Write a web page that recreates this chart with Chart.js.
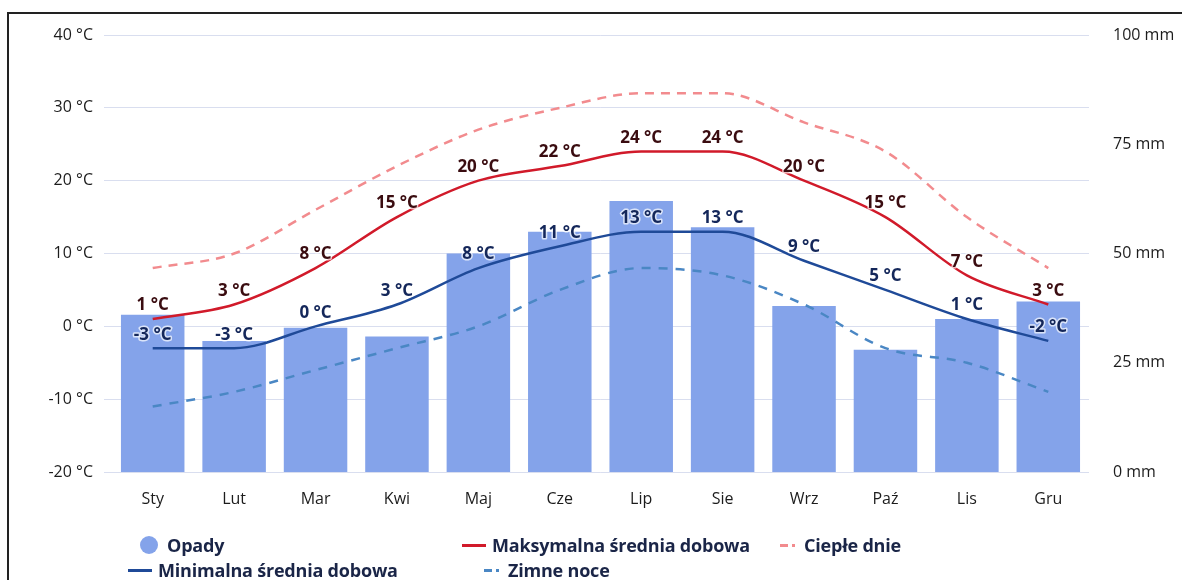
<!DOCTYPE html>
<html>
<head>
<meta charset="utf-8">
<script src="https://cdn.jsdelivr.net/npm/chart.js@4.4.1/dist/chart.umd.min.js"></script>
<style>
  html, body { margin: 0; padding: 0; background: #fff; overflow: hidden; }
  #wrap { position: relative; width: 1182px; height: 580px; }
  #frame { position: absolute; left: 7px; top: 12px; width: 1300px; height: 700px; border: 2px solid #222; }
  #legend { position: absolute; left: 0; top: 0; font-family: "Open Sans", sans-serif; font-weight: bold; font-size: 18px; color: #1a2547; letter-spacing: -0.2px; }
  .item { position: absolute; display: flex; align-items: center; white-space: nowrap; }
  .mark { display: inline-block; margin-right: 6px; }
</style>
</head>
<body>
<div id="wrap">
  <div id="frame"></div>
  <canvas id="climate" width="1182" height="580"></canvas>
  <div id="legend"></div>
</div>
<script>
const months = ['Sty', 'Lut', 'Mar', 'Kwi', 'Maj', 'Cze', 'Lip', 'Sie', 'Wrz', 'Paź', 'Lis', 'Gru'];
const precipitation = [36, 30, 33, 31, 50, 55, 62, 56, 38, 28, 35, 39];
const maxDaily = [1, 3, 8, 15, 20, 22, 24, 24, 20, 15, 7, 3];
const minDaily = [-3, -3, 0, 3, 8, 11, 13, 13, 9, 5, 1, -2];
const warmDays = [8, 10, 16, 22, 27, 30, 32, 32, 28, 24, 15, 8];
const coldNights = [-11, -9, -6, -3, 0, 5, 8, 7, 3, -3, -5, -9];
const tempTicks = [-20, -10, 0, 10, 20, 30, 40];
const rainTicks = [0, 25, 50, 75, 100];

// draws "x °C" above each point of the solid lines
const valueLabels = {
    id: 'valueLabels',
    afterDatasetsDraw(chart) {
        const ctx = chart.ctx;
        chart.data.datasets.forEach((ds, i) => {
            if (!ds.labelColor) return;
            const meta = chart.getDatasetMeta(i);
            ctx.save();
            ctx.font = 'bold 17px "Open Sans", sans-serif';
            ctx.textAlign = 'center';
            ctx.textBaseline = 'bottom';
            ctx.lineJoin = 'round';
            meta.data.forEach((pt, j) => {
                const txt = ds.data[j] + ' °C';
                ctx.lineWidth = 3;
                ctx.strokeStyle = 'rgba(255,255,255,0.7)';
                ctx.strokeText(txt, pt.x, pt.y - 5);
                ctx.fillStyle = ds.labelColor;
                ctx.fillText(txt, pt.x, pt.y - 5);
            });
            ctx.restore();
        });
    }
};

const lineBase = {
    type: 'line',
    yAxisID: 'y',
    pointRadius: 0,
    borderWidth: 2.5,
    fill: false,
    cubicInterpolationMode: 'monotone'
};

const tickFont = { family: 'Open Sans', size: 16, weight: '500' };

const chart = new Chart(document.getElementById('climate'), {
    data: {
        labels: months,
        datasets: [
            { ...lineBase, label: 'Maksymalna średnia dobowa', data: maxDaily, borderColor: '#d11a2a', labelColor: '#3a0c10', order: 1 },
            { ...lineBase, label: 'Minimalna średnia dobowa', data: minDaily, borderColor: '#1f4a98', labelColor: '#14275a', order: 2 },
            { ...lineBase, label: 'Ciepłe dnie', data: warmDays, borderColor: '#f28b8e', borderDash: [9, 7], order: 3 },
            { ...lineBase, label: 'Zimne noce', data: coldNights, borderColor: '#4a87c4', borderDash: [9, 8], order: 4 },
            {
                type: 'bar', label: 'Opady', data: precipitation, yAxisID: 'y1',
                backgroundColor: '#84a3ea', categoryPercentage: 1, barPercentage: 0.78, order: 10
            }
        ]
    },
    options: {
        responsive: false,
        animation: false,
        layout: { padding: { top: 35, bottom: 68, left: 0, right: 0 } },
        plugins: { legend: { display: false }, tooltip: { enabled: false } },
        scales: {
            x: {
                grid: { display: false },
                border: { display: false },
                ticks: { color: '#1c1c1c', padding: 10, font: tickFont },
                afterFit(s) { s.height = 40; }
            },
            y: {
                position: 'left',
                min: -20, max: 40,
                afterBuildTicks(s) { s.ticks = tempTicks.map(v => ({ value: v })); },
                grid: { color: 'rgba(185,195,225,0.55)', lineWidth: 1 },
                border: { display: false },
                ticks: { color: '#1c1c1c', padding: 11, font: tickFont, callback: v => v + ' °C' },
                afterFit(s) { s.width = 112; }
            },
            y1: {
                position: 'right',
                min: 0, max: 100,
                afterBuildTicks(s) { s.ticks = rainTicks.map(v => ({ value: v })); },
                grid: { display: false },
                border: { display: false },
                ticks: { color: '#1c1c1c', padding: 16, font: tickFont, callback: v => v + ' mm' },
                afterFit(s) { s.width = 93; }
            }
        }
    },
    plugins: [valueLabels]
});

// html legend laid out in the same spots as the original
const legendSpots = {
    'Opady': [140, 545],
    'Maksymalna średnia dobowa': [462, 545],
    'Ciepłe dnie': [780, 545],
    'Minimalna średnia dobowa': [128, 570],
    'Zimne noce': [484, 570]
};
const legend = document.getElementById('legend');
chart.data.datasets.forEach(ds => {
    const [x, y] = legendSpots[ds.label];
    const item = document.createElement('div');
    item.className = 'item';
    item.style.left = x + 'px';
    item.style.top = (y - 12) + 'px';
    const mark = document.createElement('span');
    mark.className = 'mark';
    if (ds.type === 'bar') {
        mark.style.cssText = `width:18px;height:18px;border-radius:50%;background:${ds.backgroundColor};margin-right:9px;`;
    } else if (ds.borderDash) {
        mark.style.cssText = `width:18px;height:3px;background:linear-gradient(90deg, ${ds.borderColor} 0 8px, transparent 8px 12px, ${ds.borderColor} 12px 15px, transparent 15px);`;
    } else {
        mark.style.cssText = `width:24px;height:3px;background:${ds.borderColor};`;
    }
    item.appendChild(mark);
    item.appendChild(document.createTextNode(ds.label));
    legend.appendChild(item);
});
</script>
</body>
</html>
